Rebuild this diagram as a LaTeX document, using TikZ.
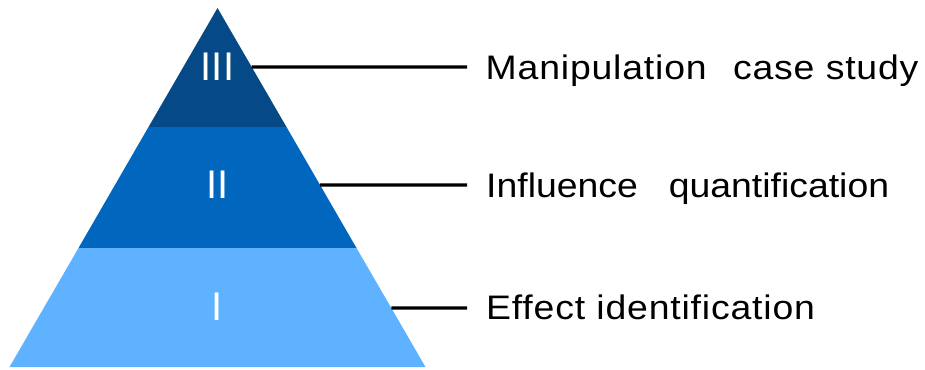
\documentclass[tikz,border=0pt]{standalone}
\usepackage{fontspec}
\setmainfont{Liberation Sans}[FakeStretch=1.1,LetterSpace=2.4]
\newfontfamily\numeralfont{Liberation Sans}
\usetikzlibrary{calc}
\definecolor{tierthree}{RGB}{5,74,135}
\definecolor{tiertwo}{RGB}{0,102,190}
\definecolor{tierone}{RGB}{94,178,255}
\begin{document}
\begin{tikzpicture}[x=1pt,y=-1pt,
  numeral/.style={text=white,inner sep=0pt,font=\numeralfont\fontsize{40}{44}\selectfont},
  label/.style={anchor=base west,inner sep=0pt,font=\fontsize{34}{40}\selectfont},
  leader/.style={draw=black,line width=3.2pt}]
\useasboundingbox (0,0) rectangle (925,369);
% pyramid corners and band boundaries
\coordinate (apex) at (217.5,8);
\coordinate (bl) at (9.5,367);
\coordinate (br) at (425.5,367);
\coordinate (ml) at (148.5,127);
\coordinate (mr) at (286.5,127);
\coordinate (ll) at (78.5,248);
\coordinate (lr) at (356.5,248);
% the three tiers
\fill[tierthree] (apex) -- (mr) -- (ml) -- cycle;
\fill[tiertwo] (ml) -- (mr) -- (lr) -- (ll) -- cycle;
\fill[tierone] (ll) -- (lr) -- (br) -- (bl) -- cycle;
% tier numerals
\node[numeral] (n3) at (217.5,67) {III};
\node[numeral] (n2) at (217.5,184.5) {II};
\node[numeral] (n1) at (217.5,306.5) {I};
% leader start points on the right flank, end points before the labels
\coordinate (s3) at ($(apex)!{(67-8)/359}!(br)$);
\coordinate (s2) at ($(apex)!{(185-8)/359}!(br)$);
\coordinate (s1) at ($(apex)!{(308-8)/359}!(br)$);
\coordinate (e3) at (467,67);
\coordinate (e2) at (467,185);
\coordinate (e1) at (467,308);
\draw[leader] (s3) -- (e3);
\draw[leader] (s2) -- (e2);
\draw[leader] (s1) -- (e1);
% labels
\node[label] (t3) at (485.5,79.3) {Manipulation\ \ \hspace{4pt}case study};
\node[label] (t2) at (486,197.3) {\addfontfeature{LetterSpace=0}Influence\ \ \hspace{10pt}quantification};
\node[label] (t1) at (486,319.3) {Effect identification};
\end{tikzpicture}
\end{document}
